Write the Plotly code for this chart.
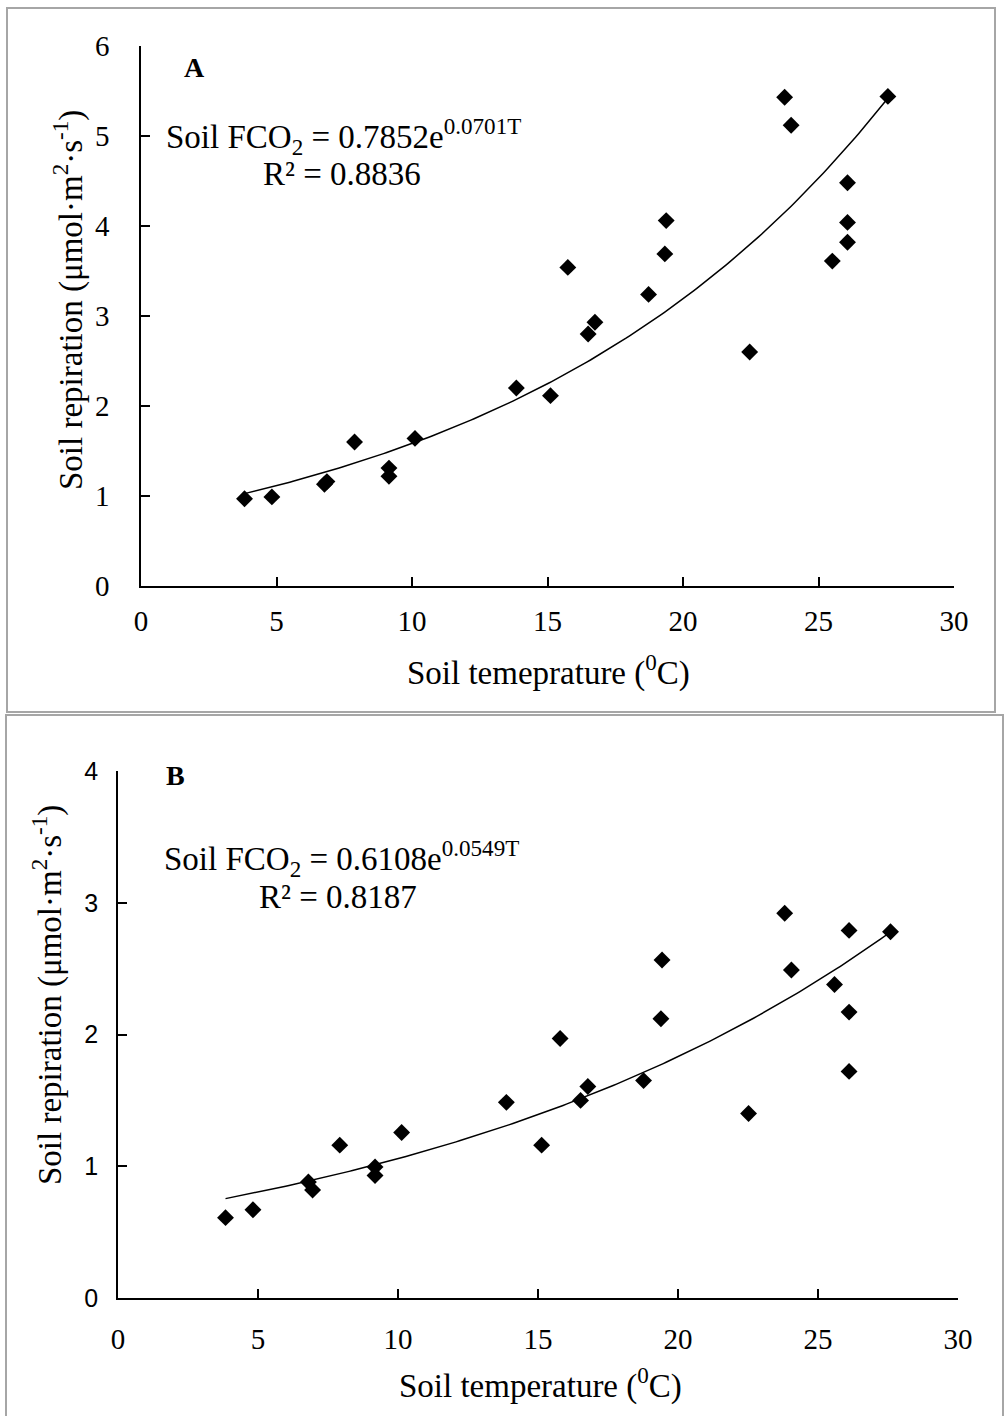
import numpy as np
import plotly.graph_objects as go

W, H = 1004, 1416

# ---- data ----
temp_A = [3.82, 4.83, 6.77, 6.86, 7.88, 9.15, 9.15, 10.11, 13.85, 15.11, 15.75, 16.50,
          16.75, 18.73, 19.33, 19.38, 22.46, 23.75, 23.99, 25.51, 26.07, 26.07, 26.07, 27.56]
resp_A = [0.97, 0.99, 1.13, 1.16, 1.60, 1.31, 1.22, 1.64, 2.20, 2.115, 3.54, 2.80,
          2.93, 3.24, 3.69, 4.06, 2.60, 5.43, 5.12, 3.61, 4.48, 4.04, 3.82, 5.44]
temp_B = [3.84, 4.82, 6.80, 6.95, 7.92, 9.18, 9.18, 10.13, 13.87, 15.13, 15.79, 16.52,
          16.78, 18.77, 19.39, 19.43, 22.52, 23.81, 24.05, 25.59, 26.11, 26.11, 26.11, 27.59]
resp_B = [0.61, 0.67, 0.88, 0.82, 1.16, 0.995, 0.93, 1.256, 1.485, 1.16, 1.97, 1.50,
          1.605, 1.65, 2.12, 2.565, 1.40, 2.92, 2.49, 2.38, 2.79, 2.17, 1.72, 2.78]
fit_A = (0.7852, 0.0701)   # a, b in a*exp(b*T)
fit_B = (0.6108, 0.0549)
x_ticks = [0, 5, 10, 15, 20, 25, 30]
y_ticks_A = [0, 1, 2, 3, 4, 5, 6]
y_ticks_B = [0, 1, 2, 3, 4]


def px(x):
    return x / W


def py(y):
    return 1 - y / H


SERIF = "Liberation Serif"
SANS = "Liberation Sans"

fig = go.Figure()

for T, R, fit, xa, ya in [(temp_A, resp_A, fit_A, "x", "y"), (temp_B, resp_B, fit_B, "x2", "y2")]:
    tt = np.linspace(min(T), max(T), 200)
    fig.add_trace(go.Scatter(x=tt, y=fit[0] * np.exp(fit[1] * tt), mode="lines",
                             line=dict(color="black", width=1.5), xaxis=xa, yaxis=ya,
                             showlegend=False, hoverinfo="skip"))
    fig.add_trace(go.Scatter(x=T, y=R, mode="markers",
                             marker=dict(symbol="diamond", size=13, color="black"),
                             xaxis=xa, yaxis=ya, showlegend=False))

axis_common = dict(showline=True, linecolor="black", linewidth=1.6, ticks="inside",
                   ticklen=9, tickwidth=1.5, tickcolor="black", showgrid=False,
                   zeroline=False, mirror=False, automargin=False)

fig.update_layout(
    width=W, height=H, margin=dict(l=0, r=0, t=0, b=0, pad=0, autoexpand=False),
    plot_bgcolor="white", paper_bgcolor="white",
    xaxis=dict(domain=[px(141), px(954)], range=[0, 30], tickvals=x_ticks, anchor="y",
               tickfont=dict(family=SERIF, size=29, color="black"), ticklabelstandoff=8,
               **axis_common),
    yaxis=dict(domain=[py(586), py(46)], range=[0, 6], tickvals=y_ticks_A, anchor="x",
               tickfont=dict(family=SERIF, size=29, color="black"), ticklabelstandoff=24,
               **axis_common),
    xaxis2=dict(domain=[px(118), px(958)], range=[0, 30], tickvals=x_ticks, anchor="y2",
                tickfont=dict(family=SERIF, size=29, color="black"), ticklabelstandoff=14,
                **axis_common),
    yaxis2=dict(domain=[py(1298), py(771)], range=[0, 4], tickvals=y_ticks_B, anchor="x2",
                tickfont=dict(family=SANS, size=25, color="black"), ticklabelstandoff=13,
                **axis_common),
)

# panel borders
fig.add_shape(type="rect", xref="paper", yref="paper", x0=px(7), x1=px(995), y0=py(712), y1=py(8),
              line=dict(color="#a6a6a6", width=2), fillcolor="rgba(0,0,0,0)", layer="below")
fig.add_shape(type="rect", xref="paper", yref="paper", x0=px(6), x1=px(1003), y0=py(1430), y1=py(715),
              line=dict(color="#a6a6a6", width=2), fillcolor="rgba(0,0,0,0)", layer="below")


def ann(text, x, y, size, xanchor="center", angle=0, bold=False):
    if bold:
        text = "<b>" + text + "</b>"
    fig.add_annotation(text=text, x=px(x), y=py(y), xref="paper", yref="paper",
                       xanchor=xanchor, yanchor="middle", showarrow=False, textangle=angle,
                       font=dict(family=SERIF, size=size, color="black"))


# Panel A texts
ann("A", 194, 67, 28, bold=True)
ann("Soil FCO<sub>2</sub> = 0.7852e<sup>0.0701T</sup>", 164, 136, 33, xanchor="left")
ann("R² = 0.8836", 342, 174, 33)
ann("Soil repiration (μmol·m<sup>2</sup>·s<sup>-1</sup>)", 68, 300, 33, angle=-90)
ann("Soil temeprature (<sup>0</sup>C)", 548, 670, 33)

# Panel B texts
ann("B", 175, 775, 28, bold=True)
ann("Soil FCO<sub>2</sub> = 0.6108e<sup>0.0549T</sup>", 162, 858, 33, xanchor="left")
ann("R² = 0.8187", 338, 897, 33)
ann("Soil repiration (μmol·m<sup>2</sup>·s<sup>-1</sup>)", 47, 995, 33, angle=-90)
ann("Soil temperature (<sup>0</sup>C)", 540, 1383, 33)

fig.write_html(
    "out.html",
    config={"displayModeBar": False},
    post_script="document.body.style.margin='0';document.body.style.overflow='hidden';"
                "document.documentElement.style.overflow='hidden';",
)
